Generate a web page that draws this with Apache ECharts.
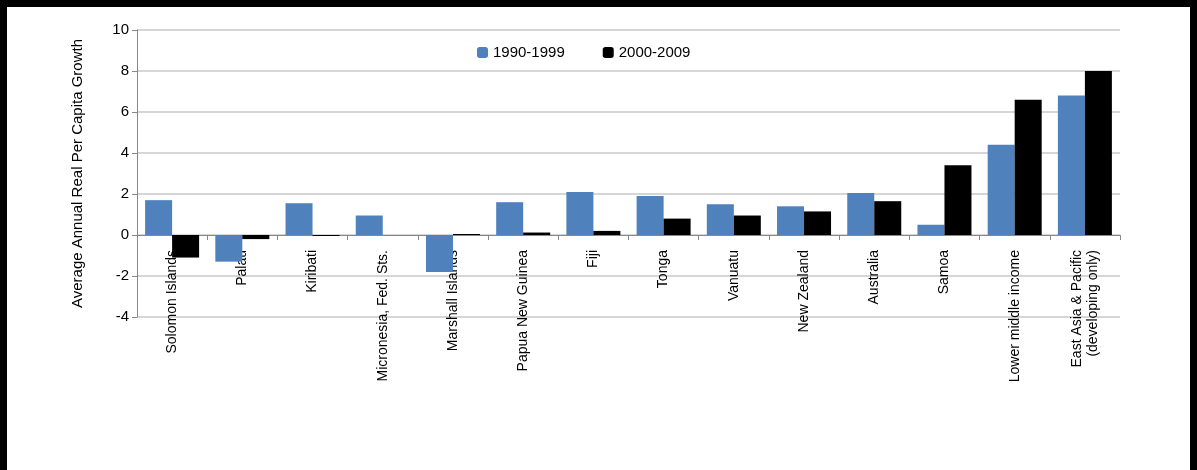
<!DOCTYPE html>
<html><head><meta charset="utf-8">
<script src="https://cdn.jsdelivr.net/npm/echarts@6/dist/echarts.min.js"></script>
<style>
html,body{margin:0;padding:0;background:#000;}
#wrap{position:absolute;left:7px;top:7px;width:1183px;height:470px;background:#fff;}
#chart{width:1183px;height:470px;}
</style></head><body>
<div id="wrap"><div id="chart"></div></div>
<script>
// 类目与数据
var categories=['Solomon Islands','Palau','Kiribati','Micronesia, Fed. Sts.','Marshall Islands','Papua New Guinea','Fiji','Tonga','Vanuatu','New Zealand','Australia','Samoa','Lower middle income','East Asia & Pacific\n(developing only)'];
var s1990=[1.7,-1.3,1.55,0.95,-1.8,1.6,2.1,1.9,1.5,1.4,2.05,0.5,4.4,6.8];
var s2000=[-1.1,-0.2,-0.05,0,0.05,0.12,0.2,0.8,0.95,1.15,1.65,3.4,6.6,8.0];
(function(){
var myChart=echarts.init(document.getElementById('chart'));
var option={
  animation:false,
  textStyle:{fontFamily:'Liberation Sans, Arial'},
  grid:{left:130,right:70,top:23,height:287},
  legend:{
    top:33,left:465,itemWidth:11,itemHeight:11,itemGap:38,
    textStyle:{fontSize:15,color:'#000'},
    data:['1990-1999','2000-2009']
  },
  xAxis:{
    type:'category',data:categories,
    axisLine:{onZero:true,lineStyle:{color:'#888'}},
    axisTick:{show:true,lineStyle:{color:'#888'}},
    axisLabel:{rotate:90,interval:0,fontSize:14,color:'#000',align:'right',verticalAlign:'middle',lineHeight:16,margin:-67}
  },
  yAxis:{
    type:'value',min:-4,max:10,interval:2,
    name:'Average Annual Real Per Capita Growth',nameLocation:'middle',nameGap:52,
    nameTextStyle:{fontSize:15,color:'#000'},
    axisLine:{show:true,lineStyle:{color:'#888'}},
    axisTick:{show:true,lineStyle:{color:'#888'}},
    axisLabel:{fontSize:15,color:'#000'},
    splitLine:{lineStyle:{color:'#c8c8c8',width:1.5}}
  },
  series:[
    {name:'1990-1999',type:'bar',data:s1990,barWidth:27,barGap:'0%',itemStyle:{color:'#4f81bd'}},
    {name:'2000-2009',type:'bar',data:s2000,barWidth:27,itemStyle:{color:'#000'}}
  ]
};
myChart.setOption(option);
})();
</script></body></html>
